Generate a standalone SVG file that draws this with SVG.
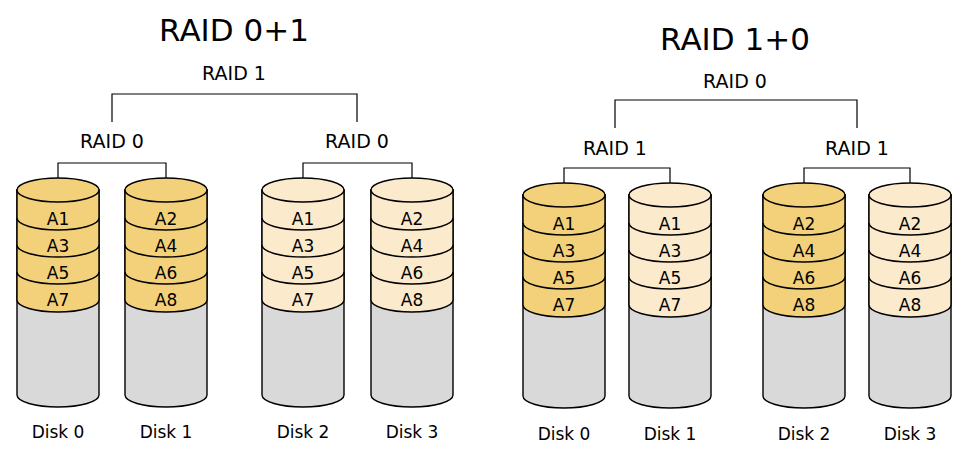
<svg xmlns="http://www.w3.org/2000/svg" xmlns:xlink="http://www.w3.org/1999/xlink" width="971" height="467" viewBox="0 0 971 467">
<style>
text{font-family:"DejaVu Sans",sans-serif;fill:#000;text-anchor:middle}
.s{stroke:#000;stroke-width:1.4}
.g{fill:#d9d9d9}
.d{fill:#f3d17a}
.l{fill:#fbeacb}
.n{fill:none}
.seg{font-size:17px}
.lab{font-size:17px}
.conn{fill:none;stroke:#000;stroke-width:1.2}
</style>
<defs>
<path id="bodyL" class="s g" d="M-41,0 V205 A41,12 0 0 0 41,205 V0 Z"/>
<path id="bodyR" class="s g" d="M-41,0 V201 A41,12 0 0 0 41,201 V0 Z"/>
<path id="stack" d="M-41,0 V110 A41,12 0 0 0 41,110 V0 Z"/>
<path id="arcs" class="s n" d="M-41,28 A41,12 0 0 0 41,28 M-41,55 A41,12 0 0 0 41,55 M-41,82 A41,12 0 0 0 41,82"/>
<ellipse id="top" cx="0" cy="0" rx="41" ry="12"/>
</defs>
<text x="234" y="41" font-size="31">RAID 0+1</text>
<text x="234" y="80" font-size="19">RAID 1</text>
<text x="112" y="148" font-size="19">RAID 0</text>
<text x="357" y="148" font-size="19">RAID 0</text>
<text x="735" y="50" font-size="31">RAID 1+0</text>
<text x="735" y="88" font-size="19">RAID 0</text>
<text x="615" y="155" font-size="19">RAID 1</text>
<text x="857" y="155" font-size="19">RAID 1</text>
<g id="connectors">
<path class="conn" d="M112,122 V94 H357 V122"/>
<path class="conn" d="M58,190 V163 H166 V190"/>
<path class="conn" d="M303,190 V163 H412 V190"/>
<path class="conn" d="M615,128 V100 H857 V128"/>
<path class="conn" d="M564,195 V168 H670 V195"/>
<path class="conn" d="M804,195 V168 H910 V195"/>
</g>
<g id="disk0L" transform="translate(58,190)"><use xlink:href="#bodyL"/><use xlink:href="#stack" class="s d"/><use xlink:href="#arcs"/><use xlink:href="#top" class="s d"/>
<text class="seg" y="35">A1</text><text class="seg" y="62">A3</text><text class="seg" y="89">A5</text><text class="seg" y="116">A7</text><text class="lab" y="248">Disk 0</text></g>
<g id="disk1L" transform="translate(166,190)"><use xlink:href="#bodyL"/><use xlink:href="#stack" class="s d"/><use xlink:href="#arcs"/><use xlink:href="#top" class="s d"/>
<text class="seg" y="35">A2</text><text class="seg" y="62">A4</text><text class="seg" y="89">A6</text><text class="seg" y="116">A8</text><text class="lab" y="248">Disk 1</text></g>
<g id="disk2L" transform="translate(303,190)"><use xlink:href="#bodyL"/><use xlink:href="#stack" class="s l"/><use xlink:href="#arcs"/><use xlink:href="#top" class="s l"/>
<text class="seg" y="35">A1</text><text class="seg" y="62">A3</text><text class="seg" y="89">A5</text><text class="seg" y="116">A7</text><text class="lab" y="248">Disk 2</text></g>
<g id="disk3L" transform="translate(412,190)"><use xlink:href="#bodyL"/><use xlink:href="#stack" class="s l"/><use xlink:href="#arcs"/><use xlink:href="#top" class="s l"/>
<text class="seg" y="35">A2</text><text class="seg" y="62">A4</text><text class="seg" y="89">A6</text><text class="seg" y="116">A8</text><text class="lab" y="248">Disk 3</text></g>
<g id="disk0R" transform="translate(564,195)"><use xlink:href="#bodyR"/><use xlink:href="#stack" class="s d"/><use xlink:href="#arcs"/><use xlink:href="#top" class="s d"/>
<text class="seg" y="35">A1</text><text class="seg" y="62">A3</text><text class="seg" y="89">A5</text><text class="seg" y="116">A7</text><text class="lab" y="245">Disk 0</text></g>
<g id="disk1R" transform="translate(670,195)"><use xlink:href="#bodyR"/><use xlink:href="#stack" class="s l"/><use xlink:href="#arcs"/><use xlink:href="#top" class="s l"/>
<text class="seg" y="35">A1</text><text class="seg" y="62">A3</text><text class="seg" y="89">A5</text><text class="seg" y="116">A7</text><text class="lab" y="245">Disk 1</text></g>
<g id="disk2R" transform="translate(804,195)"><use xlink:href="#bodyR"/><use xlink:href="#stack" class="s d"/><use xlink:href="#arcs"/><use xlink:href="#top" class="s d"/>
<text class="seg" y="35">A2</text><text class="seg" y="62">A4</text><text class="seg" y="89">A6</text><text class="seg" y="116">A8</text><text class="lab" y="245">Disk 2</text></g>
<g id="disk3R" transform="translate(910,195)"><use xlink:href="#bodyR"/><use xlink:href="#stack" class="s l"/><use xlink:href="#arcs"/><use xlink:href="#top" class="s l"/>
<text class="seg" y="35">A2</text><text class="seg" y="62">A4</text><text class="seg" y="89">A6</text><text class="seg" y="116">A8</text><text class="lab" y="245">Disk 3</text></g>
</svg>
